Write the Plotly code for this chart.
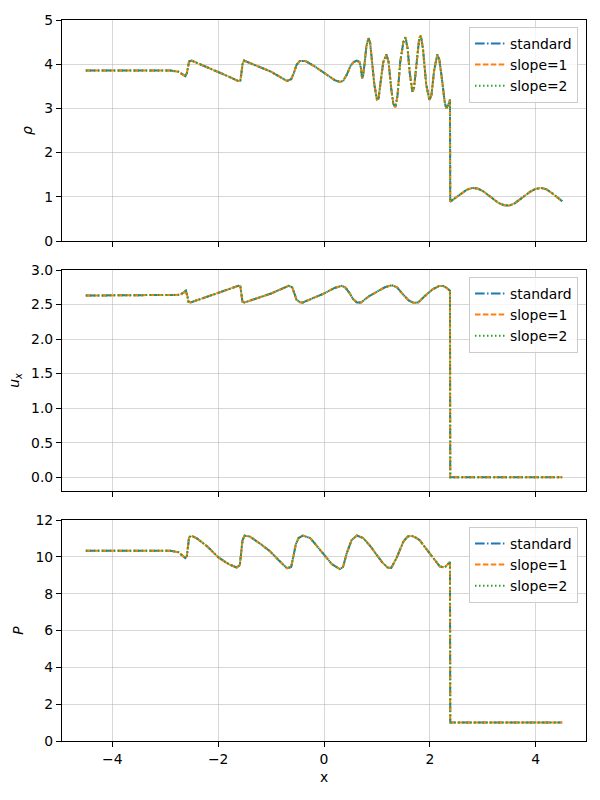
import plotly.graph_objects as go
from plotly.subplots import make_subplots

# ---------------- data ----------------
series_names = ["standard", "slope=1", "slope=2"]

rho_x = [-4.5, -2.9, -2.75, -2.68, -2.62, -2.59, -2.57, -2.55, -2.50, -2.30, -2.00, -1.80,
         -1.62, -1.58, -1.56, -1.54, -1.51, -1.30, -1.00, -0.70, -0.62, -0.57, -0.52, -0.46,
         -0.35, -0.20, 0.00, 0.20, 0.30, 0.36, 0.43, 0.50, 0.56, 0.62, 0.67, 0.70, 0.72,
         0.74, 0.77, 0.80, 0.84, 0.87, 0.90, 0.95, 1.00, 1.03, 1.07, 1.12, 1.18, 1.22, 1.27,
         1.31, 1.35, 1.39, 1.44, 1.50, 1.54, 1.58, 1.62, 1.67, 1.70, 1.75, 1.80, 1.83, 1.87,
         1.93, 1.99, 2.03, 2.08, 2.14, 2.18, 2.23, 2.28, 2.31, 2.35, 2.38, 2.385,
         2.5, 2.6, 2.7, 2.8, 2.9, 3.0, 3.1, 3.2, 3.3, 3.4, 3.5, 3.6, 3.7, 3.8, 3.9, 4.0,
         4.1, 4.2, 4.3, 4.4, 4.5]
rho_v = [3.857, 3.857, 3.83, 3.78, 3.73, 3.80, 3.95, 4.06, 4.08, 3.98, 3.83, 3.72,
         3.62, 3.63, 3.80, 4.00, 4.08, 3.98, 3.83, 3.62, 3.66, 3.80, 3.98, 4.07,
         4.07, 3.97, 3.80, 3.64, 3.60, 3.62, 3.76, 3.96, 4.05, 4.08, 4.05, 3.90, 3.68,
         3.75, 4.05, 4.40, 4.59, 4.50, 4.15, 3.55, 3.20, 3.22, 3.60, 4.05, 4.22, 4.05, 3.45,
         3.10, 3.03, 3.30, 4.05, 4.50, 4.61, 4.35, 3.80, 3.38, 3.45, 4.10, 4.60, 4.64, 4.35,
         3.55, 3.19, 3.30, 3.85, 4.22, 4.10, 3.65, 3.15, 3.00, 3.08, 3.20, 0.89,
         0.99, 1.08, 1.16, 1.20, 1.19, 1.13, 1.04, 0.94, 0.86, 0.81, 0.80, 0.85, 0.93,
         1.03, 1.12, 1.18, 1.20, 1.17, 1.09, 1.00, 0.90]

u_x = [-4.5, -2.9, -2.72, -2.64, -2.61, -2.58, -2.56, -2.52, -2.00, -1.80, -1.62, -1.58,
       -1.56, -1.54, -1.50, -1.00, -0.67, -0.60, -0.55, -0.52, -0.45, -0.40, 0.00, 0.20,
       0.33, 0.40, 0.47, 0.55, 0.62, 0.70, 0.85, 1.00, 1.15, 1.28, 1.38, 1.50, 1.60, 1.69,
       1.78, 1.90, 2.05, 2.18, 2.25, 2.32, 2.38, 2.385, 4.5]
u_v = [2.63, 2.63, 2.64, 2.68, 2.70, 2.62, 2.54, 2.53, 2.665, 2.72, 2.77, 2.76,
       2.62, 2.54, 2.53, 2.66, 2.77, 2.75, 2.64, 2.57, 2.53, 2.53, 2.66, 2.74,
       2.77, 2.75, 2.68, 2.58, 2.53, 2.53, 2.62, 2.69, 2.75, 2.78, 2.75, 2.64, 2.56, 2.525,
       2.53, 2.62, 2.72, 2.77, 2.77, 2.74, 2.70, 0.0, 0.0]

p_x = [-4.5, -2.9, -2.75, -2.68, -2.62, -2.59, -2.57, -2.55, -2.51, -2.40, -2.20, -2.00,
       -1.80, -1.65, -1.59, -1.56, -1.54, -1.50, -1.40, -1.20, -1.02, -0.85, -0.70, -0.62,
       -0.57, -0.53, -0.48, -0.40, -0.26, -0.10, 0.00, 0.15, 0.30, 0.36, 0.43, 0.52, 0.62,
       0.74, 0.87, 0.99, 1.10, 1.20, 1.27, 1.37, 1.44, 1.50, 1.58, 1.65, 1.73, 1.81, 1.90,
       2.00, 2.10, 2.19, 2.28, 2.35, 2.38, 2.385, 4.5]
p_v = [10.33, 10.33, 10.25, 10.1, 9.93, 10.05, 10.6, 11.05, 11.15, 11.0, 10.55, 9.98,
       9.6, 9.42, 9.55, 10.3, 10.9, 11.15, 11.1, 10.7, 10.3, 9.8, 9.38, 9.45,
       10.1, 10.7, 11.02, 11.15, 11.02, 10.45, 10.11, 9.6, 9.33, 9.45, 10.2, 10.9, 11.16,
       11.02, 10.6, 10.1, 9.7, 9.42, 9.4, 9.93, 10.45, 10.83, 11.1, 11.15, 11.05, 10.9, 10.55,
       10.2, 9.8, 9.47, 9.42, 9.66, 9.72, 1.0, 1.0]

x_ticks = [-4, -2, 0, 2, 4]

# ---------------- styling ----------------
colors = ["#1f77b4", "#ff7f0e", "#2ca02c"]
dashes = ["9.6px,2.4px,1.5px,2.4px", "5.5px,2.4px", "1.5px,2.5px"]
FONT = "DejaVu Sans"
FS = 13.9

fig = make_subplots(rows=3, cols=1, shared_xaxes=True)

panels = [(rho_x, rho_v, "legend"), (u_x, u_v, "legend2"), (p_x, p_v, "legend3")]
for r, (xs, ys, lg) in enumerate(panels, start=1):
    for name, c, d in zip(series_names, colors, dashes):
        fig.add_trace(go.Scatter(x=xs, y=ys, mode="lines", name=name,
                                 line=dict(color=c, width=2, dash=d),
                                 legend=lg), row=r, col=1)

H = 721.0
doms = [[(741 - 241) / H, 1.0], [(741 - 491) / H, (741 - 270) / H], [0.0, 221 / H]]

axis_common = dict(showline=True, linecolor="black", linewidth=1.1, mirror=True,
                   ticks="outside", ticklen=5, tickwidth=1.1, tickcolor="black",
                   showgrid=True, gridcolor="rgba(176,176,176,0.5)", gridwidth=1.1,
                   zeroline=False, tickfont=dict(family=FONT, size=FS, color="black"))

for i in range(3):
    xa = "xaxis" if i == 0 else f"xaxis{i+1}"
    ya = "yaxis" if i == 0 else f"yaxis{i+1}"
    fig.layout[xa].update(range=[-4.95, 4.95], tickvals=x_ticks, **axis_common)
    fig.layout[ya].update(domain=doms[i], **axis_common)

fig.layout.xaxis.update(showticklabels=False)
fig.layout.xaxis2.update(showticklabels=False)
fig.layout.xaxis3.update(showticklabels=True,
                         title=dict(text="x", font=dict(family=FONT, size=FS, color="black"),
                                    standoff=6))

ytitle_font = dict(family=FONT, size=FS, color="black")
fig.layout.yaxis.update(range=[0, 5], dtick=1,
                        title=dict(text="<i>ρ</i>", font=ytitle_font, standoff=8))
fig.layout.yaxis2.update(range=[-0.2, 3.0], dtick=0.5, tickformat=".1f",
                         title=dict(text="<i>u<sub>x</sub></i>", font=ytitle_font, standoff=8))
fig.layout.yaxis3.update(range=[0, 12], dtick=2,
                         title=dict(text="<i>P</i>", font=ytitle_font, standoff=8))

leg_common = dict(x=1 - 8 / 524, xanchor="right", yanchor="top",
                  bgcolor="rgba(255,255,255,0.8)", bordercolor="#cccccc", borderwidth=1,
                  font=dict(family=FONT, size=FS, color="black"), tracegroupgap=0)
fig.update_layout(
    legend=dict(y=(741 - 27) / H, **leg_common),
    legend2=dict(y=(741 - 277) / H, **leg_common),
    legend3=dict(y=(741 - 527) / H, **leg_common),
)

fig.update_layout(width=600, height=800, margin=dict(l=62, r=14, t=20, b=59),
                  paper_bgcolor="white", plot_bgcolor="white",
                  font=dict(family=FONT, size=FS, color="black"))

fig.write_html("out.html")
